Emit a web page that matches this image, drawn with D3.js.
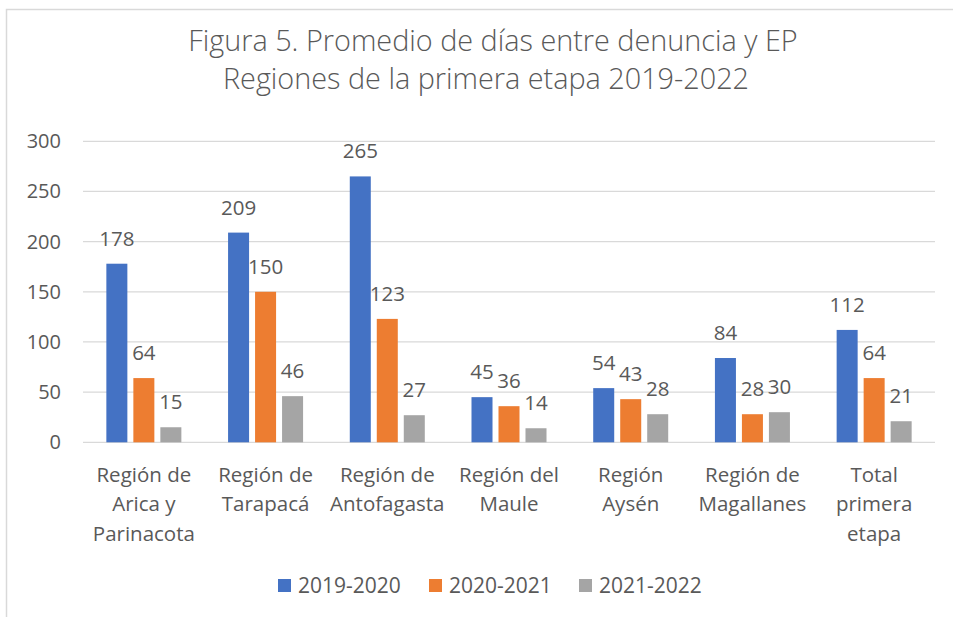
<!DOCTYPE html>
<html>
<head>
<meta charset="utf-8">
<script src="https://cdn.jsdelivr.net/npm/d3@7"></script>
<style>
  body { margin: 0; background: #fff; }
  svg text { font-family: "Open Sans", "Noto Sans", sans-serif; fill: #595959; }
</style>
</head>
<body>
<div id="chart"></div>
<script>
var categories = [
  ["Región de", "Arica y", "Parinacota"],
  ["Región de", "Tarapacá"],
  ["Región de", "Antofagasta"],
  ["Región del", "Maule"],
  ["Región", "Aysén"],
  ["Región de", "Magallanes"],
  ["Total", "primera", "etapa"]
];
var seriesNames = ["2019-2020", "2020-2021", "2021-2022"];
var values2019 = [178, 209, 265, 45, 54, 84, 112];
var values2020 = [64, 150, 123, 36, 43, 28, 64];
var values2021 = [15, 46, 27, 14, 28, 30, 21];
var yTicks = [0, 50, 100, 150, 200, 250, 300];
var titleLines = ["Figura 5. Promedio de días entre denuncia y EP", "Regiones de la primera etapa 2019-2022"];

var colors = ["#4472C4", "#ED7D31", "#A5A5A5"];
var seriesValues = [values2019, values2020, values2021];

var width = 953, height = 617;
var plot = { left: 83, right: 935, top: 141.3, bottom: 442.3 };

var svg = d3.select("#chart").append("svg")
  .attr("width", width)
  .attr("height", height);

// chart area border (only top/left visible in the picture)
svg.append("rect")
  .attr("x", 6.5).attr("y", 9.5)
  .attr("width", 1000).attr("height", 700)
  .attr("fill", "none")
  .attr("stroke", "#D9D9D9")
  .attr("stroke-width", 1.5);

// title
var titleX = [493, 486];
svg.append("g").selectAll("text")
  .data(titleLines).enter()
  .append("text")
    .attr("x", function(d, i) { return titleX[i]; })
    .attr("y", function(d, i) { return 51 + i * 37.6; })
    .attr("text-anchor", "middle")
    .style("font-size", "28.8px")
    .style("font-weight", 300)
    .text(function(d) { return d; });

var idx = d3.range(categories.length);

var x0 = d3.scaleBand()
  .domain(idx)
  .range([plot.left, plot.right])
  .padding(0);

var x1 = d3.scaleBand()
  .domain(d3.range(seriesNames.length))
  .range([0, x0.bandwidth()])
  .paddingInner(0.222)
  .paddingOuter(0.865);

var y = d3.scaleLinear()
  .domain([0, 300])
  .range([plot.bottom, plot.top]);

// gridlines
svg.append("g").selectAll("line")
  .data(yTicks).enter()
  .append("line")
    .attr("x1", plot.left).attr("x2", plot.right)
    .attr("y1", function(d) { return y(d); })
    .attr("y2", function(d) { return y(d); })
    .attr("stroke", "#D9D9D9")
    .attr("stroke-width", 1.3);

// y tick labels
svg.append("g").selectAll("text")
  .data(yTicks).enter()
  .append("text")
    .attr("x", 61)
    .attr("y", function(d) { return y(d); })
    .attr("dy", "0.35em")
    .attr("text-anchor", "end")
    .style("font-size", "20px")
    .text(function(d) { return d; });

// bars
var groups = svg.append("g").selectAll("g")
  .data(idx).enter()
  .append("g")
    .attr("transform", function(i) { return "translate(" + x0(i) + ",0)"; });

groups.selectAll("rect")
  .data(function(i) { return seriesValues.map(function(s, k) { return { k: k, v: s[i] }; }); })
  .enter()
  .append("rect")
    .attr("x", function(d) { return x1(d.k); })
    .attr("y", function(d) { return y(d.v); })
    .attr("width", x1.bandwidth())
    .attr("height", function(d) { return y(0) - y(d.v); })
    .attr("fill", function(d) { return colors[d.k]; });

// value labels
groups.selectAll("text")
  .data(function(i) { return seriesValues.map(function(s, k) { return { k: k, v: s[i] }; }); })
  .enter()
  .append("text")
    .attr("x", function(d) { return x1(d.k) + x1.bandwidth() / 2; })
    .attr("y", function(d) { return y(d.v) - 18; })
    .attr("text-anchor", "middle")
    .style("font-size", "20.5px")
    .text(function(d) { return d.v; });

// category labels
var catText = svg.append("g").selectAll("text")
  .data(idx).enter()
  .append("text")
    .attr("text-anchor", "middle")
    .style("font-size", "20.5px");

catText.selectAll("tspan")
  .data(function(i) { return categories[i].map(function(t) { return { t: t, i: i }; }); })
  .enter()
  .append("tspan")
    .attr("x", function(d) { return x0(d.i) + x0.bandwidth() / 2; })
    .attr("y", function(d, j) { return 481.5 + j * 29.5; })
    .text(function(d) { return d.t; });

// legend
var legendX = [278, 429, 579];
var legend = svg.append("g").selectAll("g")
  .data(seriesNames).enter()
  .append("g")
    .attr("transform", function(d, i) { return "translate(" + legendX[i] + ",579)"; });

legend.append("rect")
  .attr("width", 13).attr("height", 13)
  .attr("fill", function(d, i) { return colors[i]; });

legend.append("text")
  .attr("x", 20)
  .attr("y", 6.5)
  .attr("dy", "0.35em")
  .style("font-size", "21px")
  .text(function(d) { return d; });
</script>
</body>
</html>
